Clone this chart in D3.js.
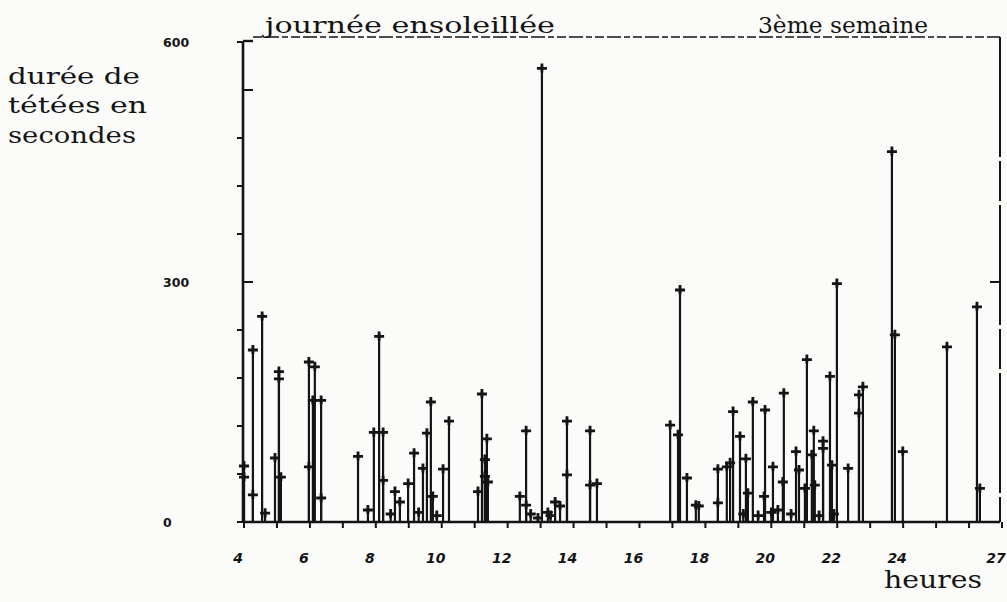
<!DOCTYPE html>
<html>
<head>
<meta charset="utf-8">
<script src="https://cdn.jsdelivr.net/npm/d3@7"></script>
<style>
  html, body { margin: 0; padding: 0; background: #fbfbf9; }
  svg { display: block; }
</style>
</head>
<body>
<script>
// ---- data ----
const hours = [4.00,4.00,4.27,4.27,4.55,4.64,4.94,5.06,5.06,5.12,5.97,5.97,6.09,6.15,6.34,6.34,
  7.46,7.76,7.94,8.10,8.22,8.22,8.45,8.58,8.73,8.98,9.16,9.30,9.43,9.55,9.67,9.73,9.85,10.04,10.22,
  11.10,11.22,11.31,11.31,11.37,11.40,12.37,12.56,12.56,12.70,12.92,13.04,13.22,13.30,13.44,13.59,13.80,13.80,
  14.50,14.50,14.71,16.93,17.17,17.23,17.44,17.71,17.80,18.38,18.38,18.65,18.75,18.84,19.05,19.15,19.23,19.29,
  19.44,19.60,19.78,19.81,20.00,20.05,20.20,20.35,20.38,20.60,20.75,20.84,21.02,21.08,21.23,21.29,21.32,21.45,
  21.57,21.57,21.78,21.84,21.90,21.99,22.33,22.66,22.66,22.78,23.66,23.75,23.99,25.33,26.24,26.33];
const durations = [70,56,215,34,257,11,80,188,179,56,200,69,152,194,152,30,
  82,15,112,232,112,52,10,38,25,48,86,12,67,111,150,32,8,66,126,
  38,160,78,57,104,50,32,114,21,10,5,567,12,8,25,20,126,59,
  114,46,48,121,109,290,55,21,20,66,24,69,74,138,107,10,79,36,
  150,8,32,140,12,69,15,50,161,10,88,65,42,203,84,114,46,8,
  101,92,182,71,10,298,67,159,136,169,463,234,88,219,269,42];
const xTickHours = d3.range(4, 28, 1);
const xLabels = [4,6,8,10,12,14,16,18,20,22,24,27];
const yLabels = [0,300,600];
const yTicks = d3.range(0, 601, 60);
const title1 = "journée ensoleillée";
const title2 = "3ème semaine";
const yTitle = ["durée de","tétées en","secondes"];
const xTitle = "heures";

const events = hours.map((h, i) => ({h, v: durations[i]}));

const W = 1007, H = 602;
const svg = d3.select("body").append("svg").attr("width", W).attr("height", H);
svg.append("rect").attr("width", W).attr("height", H).attr("fill", "#fbfbf9");

const x = d3.scaleLinear().domain([4, 27]).range([244, 1002]);
const y = d3.scaleLinear().domain([0, 600]).range([522, 42]);
const ink = "#141414";

// frame
const fL = 243, fR = 1000, fT = 41, fB = 522;
svg.append("line").attr("x1", fL + 10).attr("x2", fR).attr("y1", 37).attr("y2", 37)
  .attr("stroke", ink).attr("stroke-width", 1.6).attr("stroke-dasharray", "9,3,14,3,6,3");
svg.append("line").attr("x1", fL).attr("x2", fL + 10).attr("y1", fT).attr("y2", fT)
  .attr("stroke", ink).attr("stroke-width", 2.4);
svg.append("line").attr("x1", fR).attr("x2", fR).attr("y1", 37).attr("y2", fB)
  .attr("stroke", ink).attr("stroke-width", 2).attr("stroke-dasharray", "120,4,40,4");

// spikes
const g = svg.append("g");
g.selectAll("line.spike").data(events).join("line")
  .attr("class", "spike")
  .attr("x1", d => x(d.h)).attr("x2", d => x(d.h))
  .attr("y1", y(0)).attr("y2", d => y(d.v) - 3)
  .attr("stroke", ink).attr("stroke-width", 2.2);
g.selectAll("path.cross").data(events).join("path")
  .attr("class", "cross")
  .attr("d", d => {
    const cx = x(d.h), cy = y(d.v);
    return `M${cx - 5},${cy}H${cx + 5}M${cx},${cy - 5}V${cy + 4}`;
  })
  .attr("stroke", ink).attr("stroke-width", 2.8).attr("fill", "none");

// axes
svg.append("line").attr("x1", fL).attr("x2", fL).attr("y1", fT).attr("y2", fB)
  .attr("stroke", ink).attr("stroke-width", 2.6);
svg.append("line").attr("x1", fL).attr("x2", fR).attr("y1", fB).attr("y2", fB)
  .attr("stroke", ink).attr("stroke-width", 2.6);

// y ticks
svg.selectAll("line.ytick").data(yTicks).join("line")
  .attr("class", "ytick")
  .attr("x1", d => (d === 300 || d === 540) ? fL + 10 : fL - 6)
  .attr("x2", fL)
  .attr("y1", d => y(d)).attr("y2", d => y(d))
  .attr("stroke", ink).attr("stroke-width", 2);
svg.append("line").attr("x1", fR - 10).attr("x2", fR).attr("y1", y(300)).attr("y2", y(300))
  .attr("stroke", ink).attr("stroke-width", 2);

// x ticks
svg.selectAll("line.xtick").data(xTickHours).join("line")
  .attr("class", "xtick")
  .attr("x1", d => x(d)).attr("x2", d => x(d))
  .attr("y1", fB).attr("y2", fB + 6)
  .attr("stroke", ink).attr("stroke-width", 2);

// y labels
svg.selectAll("text.ylab").data(yLabels).join("text")
  .attr("class", "ylab")
  .attr("x", 163).attr("y", d => y(d) + 5)
  .attr("font-family", "DejaVu Sans").attr("font-weight", "bold").attr("font-size", 12.5)
  .attr("fill", ink).text(d => d);

// x labels
svg.selectAll("text.xlab").data(xLabels).join("text")
  .attr("class", "xlab")
  .attr("x", d => x(d) - 6).attr("y", 563)
  .attr("text-anchor", "middle")
  .attr("font-family", "DejaVu Sans").attr("font-weight", "bold").attr("font-style", "italic")
  .attr("font-size", 14).attr("fill", ink).text(d => d);

// titles
const serif = "DejaVu Serif";
function txt(s, x0, yb, len, size) {
  svg.append("text").attr("x", x0).attr("y", yb)
    .attr("font-family", serif).attr("font-size", size).attr("fill", ink)
    .attr("textLength", len).attr("lengthAdjust", "spacingAndGlyphs")
    .text(s);
}
txt(title1, 265, 33, 290, 23);
txt(title2, 758, 33, 170, 23);
txt(yTitle[0], 8, 84, 132, 23);
txt(yTitle[1], 8, 113, 139, 23);
txt(yTitle[2], 8, 143, 128, 23);
txt(xTitle, 884, 588, 98, 25);
</script>
</body>
</html>
